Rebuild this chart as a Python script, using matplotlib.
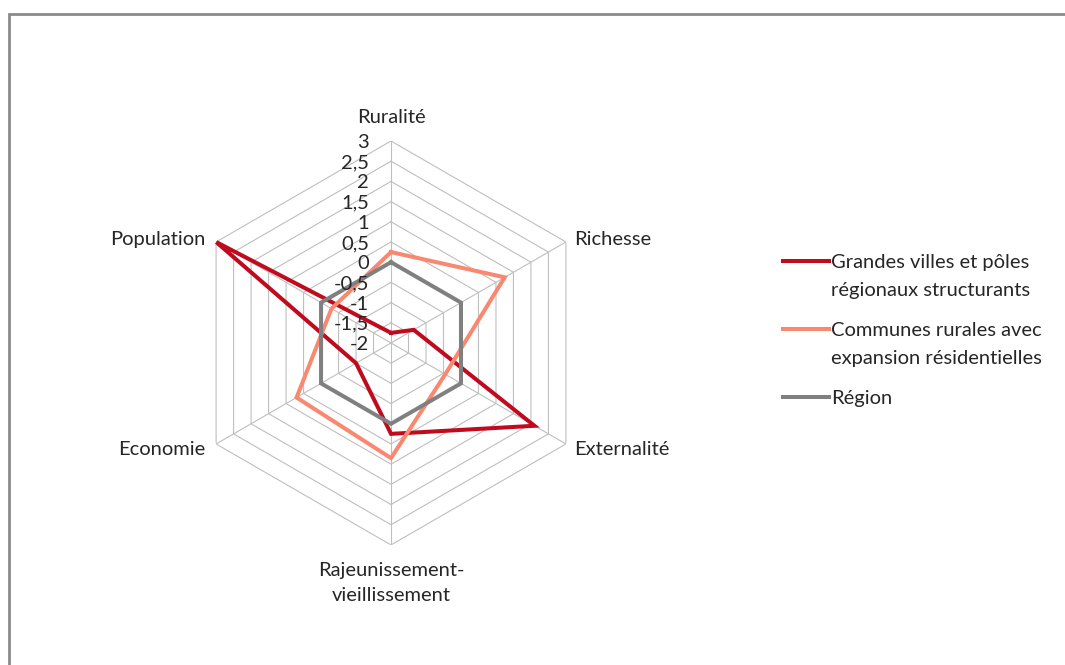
import matplotlib
matplotlib.use("Agg")
import matplotlib.pyplot as plt
import numpy as np
from matplotlib.lines import Line2D
from matplotlib.patches import Rectangle

plt.rcParams['font.family'] = ['Lato', 'DejaVu Sans']

# axes of the radar, clockwise from the top
categories = ['Ruralité', 'Richesse', 'Externalité',
              'Rajeunissement-\nvieillissement', 'Economie', 'Population']
grandes_villes = [-1.75, -1.35, 2.1, 0.25, -1.0, 3.0]
communes_rurales = [0.25, 1.25, -0.45, 0.85, 0.7, -0.3]
region = [0, 0, 0, 0, 0, 0]
series_names = ['Grandes villes et pôles\nrégionaux structurants',
                'Communes rurales avec\nexpansion résidentielles',
                'Région']
r_ticks = [-2, -1.5, -1, -0.5, 0, 0.5, 1, 1.5, 2, 2.5, 3]
r_tick_labels = ['-2', '-1,5', '-1', '-0,5', '0', '0,5', '1', '1,5', '2', '2,5', '3']

colors = ['#C00A1E', '#F98870', '#808080']
grid_col = '#BFBFBF'
txt_col = '#262626'
fs = 14.5

fig = plt.figure(figsize=(10.65, 6.65), dpi=100)
ax = fig.add_axes([0.1775, 0.1805, 0.3793, 0.6075], projection='polar')
ax.set_theta_zero_location('N')
ax.set_theta_direction(-1)
ax.set_ylim(r_ticks[0], r_ticks[-1])
ax.grid(False)
ax.set_xticks([])
ax.set_yticks([])
ax.spines['polar'].set_visible(False)
ax.patch.set_alpha(0)

n = len(categories)
angles = np.linspace(0, 2 * np.pi, n, endpoint=False)
closed = np.append(angles, angles[0])

# hexagonal grid
for v in r_ticks[1:]:
    ax.plot(closed, [v] * (n + 1), color=grid_col, lw=0.8, zorder=1)
for a in angles:
    ax.plot([a, a], [r_ticks[0], r_ticks[-1]], color=grid_col, lw=0.8, zorder=1)

# series
for vals, c in zip([grandes_villes, communes_rurales, region], colors):
    ax.plot(closed, vals + vals[:1], color=c, lw=2.9, zorder=3,
            solid_joinstyle='miter')

# radial tick labels
for v, lab in zip(r_ticks, r_tick_labels):
    ax.annotate(lab, xy=(0, v), xytext=(-22, 0), textcoords='offset pixels',
                ha='right', va='center_baseline', fontsize=fs, color=txt_col, zorder=4)

# category labels
offsets = [(0, 25, 'center', 'center_baseline'), (8, 4, 'left', 'center_baseline'),
           (8, -4, 'left', 'center_baseline'), (0, -17, 'center', 'top'),
           (-11, -4, 'right', 'center_baseline'), (-11, 4, 'right', 'center_baseline')]
for a, lab, (dx, dy, ha, va) in zip(angles, categories, offsets):
    ax.annotate(lab, xy=(a, r_ticks[-1]), xytext=(dx, dy), textcoords='offset pixels',
                ha=ha, va=va, fontsize=fs, color=txt_col, linespacing=1.55)

# legend, handle aligned with first text line
leg_y = [261, 329, 397]
line_gap = 28
for name, c, y in zip(series_names, colors, leg_y):
    yf = 1 - y / 665
    fig.add_artist(Line2D([783 / 1065, 829 / 1065], [yf, yf], color=c, lw=2.9,
                          transform=fig.transFigure))
    for i, part in enumerate(name.split('\n')):
        fig.text(831 / 1065, 1 - (y + i * line_gap) / 665, part, ha='left',
                 va='center_baseline', fontsize=fs, color=txt_col)

# chart frame
fig.add_artist(Rectangle((9 / 1065, -0.1), 1.2, 1.1 - 14 / 665, fill=False,
                         edgecolor='#8A8A8A', lw=2, transform=fig.transFigure))

fig.savefig('out.png', dpi=100)
